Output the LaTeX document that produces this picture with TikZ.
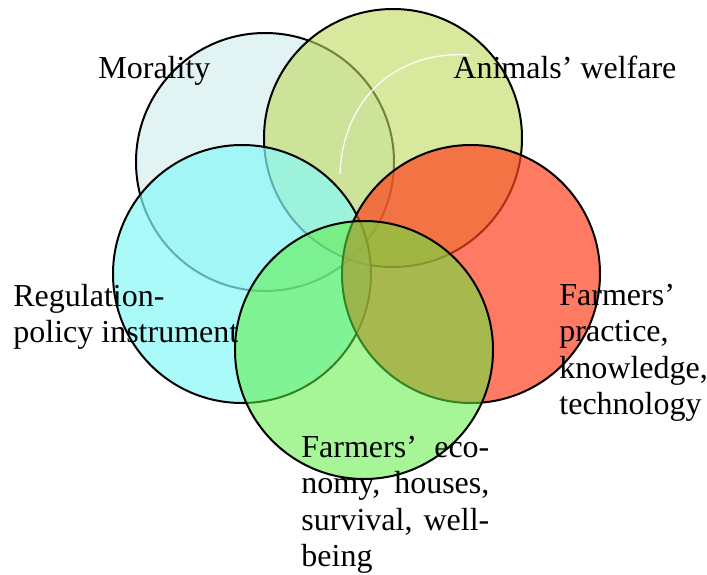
\documentclass[tikz,border=0pt]{standalone}
\usepackage{fontspec}
\setmainfont{Liberation Serif}
\definecolor{moralFill}{RGB}{207,235,235}
\definecolor{welfareFill}{RGB}{190,218,93}
\definecolor{regulFill}{RGB}{136,248,248}
\definecolor{practFill}{RGB}{255,65,31}
\definecolor{econFill}{RGB}{93,237,64}
\tikzset{%
  % Specifications for style of nodes:
      sphere/.style = {circle, draw=black, line width=1pt, inner sep=0pt,
                       minimum size=129pt},
         txt/.style = {inner sep=0pt, anchor=base west,
                       font=\fontsize{16}{18.3}\selectfont},
}

\begin{document}
\begin{tikzpicture}[x=0.5pt, y=-0.5pt]
  \useasboundingbox (0,0) rectangle (707,574);
  \node (morality)   [sphere, fill=moralFill, fill opacity=0.6]   at (265,162) {};
  \node (welfare)    [sphere, fill=welfareFill, fill opacity=0.6] at (393,138) {};
  \node (regulation) [sphere, fill=regulFill, fill opacity=0.7]   at (242,274) {};
  \node (practice)   [sphere, fill=practFill, fill opacity=0.7]   at (471,274) {};
  \node (economy)    [sphere, fill=econFill, fill opacity=0.55]   at (364,350) {};
  % white highlight inside the welfare circle
  \draw[white, line width=0.6pt] (340,174) .. controls (343,95) and (400,50) .. (470,55);

  \node (moralText)   [txt] at (98,78)  {Morality};
  \node (welfareText) [txt] at (453,78) {Animals' welfare};
  \node (regulText)   [txt] at (13,306) {\begin{tabular}[t]{@{}l@{}}Regulation-\\policy instrument\end{tabular}};
  \node (practText)   [txt] at (559,305) {\begin{tabular}[t]{@{}l@{}}Farmers'\\practice,\\knowledge,\\technology\end{tabular}};
  \node (econText)    [txt] at (301,457) {\begin{tabular}[t]{@{}l@{}}\makebox[94pt][s]{Farmers' eco-}\\
                                          \makebox[94pt][s]{nomy, houses,}\\
                                          \makebox[94pt][s]{survival, well-}\\
                                          being\end{tabular}};
\end{tikzpicture}
\end{document}
